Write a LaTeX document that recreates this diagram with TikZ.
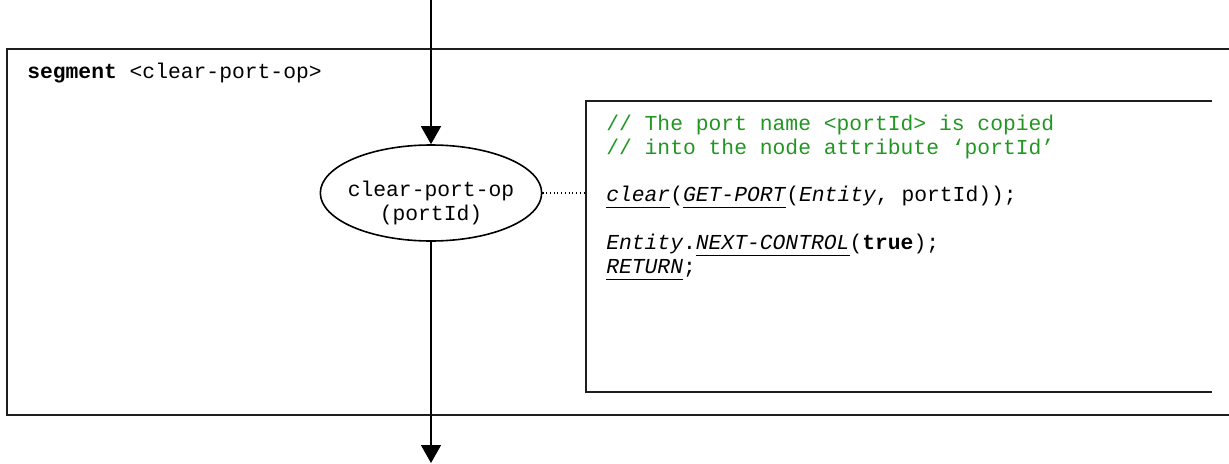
\documentclass[tikz,border=0pt]{standalone}
\usepackage{fontspec}
\setmonofont{Liberation Mono}
\usepackage{tikz}
\usetikzlibrary{arrows.meta, positioning, shapes.geometric}
\usepackage{xcolor}
\definecolor{codegreen}{RGB}{34,150,34}
\definecolor{framegray}{RGB}{30,30,30}
\newcommand{\codeul}[1]{\underline{#1\vphantom{y}}}

\tikzset{
  frameline/.style={line width=1.3pt, framegray},
  flow/.style={line width=1.1pt, -{Triangle[width=15pt, length=13.5pt]}},
  opnode/.style={ellipse, draw, line width=1.2pt, minimum width=166pt, minimum height=72pt, inner sep=0pt},
  optext/.style={font=\ttfamily\fontsize{16}{17.3}\selectfont, align=center, inner sep=0pt},
  codeline/.style={font=\ttfamily\fontsize{16}{18}\selectfont, anchor=base west, inner sep=0pt}
}

\begin{document}
\begin{tikzpicture}[x=0.75pt, y=-0.75pt]
  \useasboundingbox (0,0) rectangle (1229,464);
  % outer segment frame, open to the right
  \draw[frameline] (1232,49) -- (7,49) -- (7,415) -- (1232,415);
  \node[codeline] (title) at (27,78) {\textbf{segment} <clear-port-op>};

  % code box, open to the right
  \draw[frameline] (1212,101) -- (586,101) -- (586,392) -- (1212,392);
  \coordinate (codeleft) at (586,193);

  \node[opnode] (op) at (431,193) {};
  \node[optext] (oplabel) at (431,203) {clear-port-op\\(portId)};

  \coordinate (entry) at (431,0);
  \coordinate (exit) at (431,463);
  \draw[flow] (entry) -- (op.north);
  \draw[flow] (op.south) -- (exit);
  \draw[dotted, line width=0.8pt] (op.east) -- (codeleft);

  \node[codeline, codegreen] (code1) at (606,130) {// The port name <portId> is copied};
  \node[codeline, codegreen] (code2) at (606,154) {// into the node attribute ‘portId’};
  \node[codeline] (code3) at (606,201) {\codeul{\textit{clear}}(\codeul{\textit{GET-PORT}}(\textit{Entity}, portId));};
  \node[codeline] (code4) at (606,249) {\textit{Entity}.\codeul{\textit{NEXT-CONTROL}}(\textbf{true});};
  \node[codeline] (code5) at (606,273) {\codeul{\textit{RETURN}};};
\end{tikzpicture}
\end{document}
